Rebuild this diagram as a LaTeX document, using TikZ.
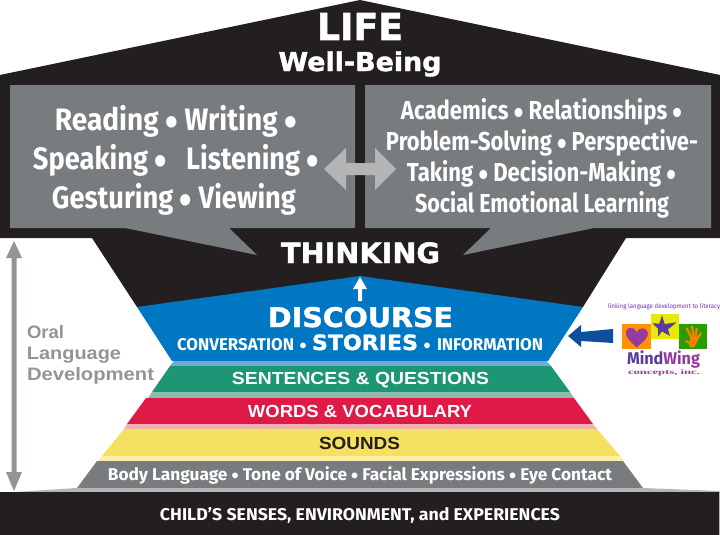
\documentclass[tikz,border=0pt]{standalone}
\usepackage{fontspec}
\usepackage{graphicx}
\setmainfont{Liberation Sans}
\newfontfamily\cond{Fira Sans}
\newfontfamily\heavy[BoldFeatures={FakeBold=1.6}]{DejaVu Sans}
\newfontfamily\serifw{Liberation Serif}
\newfontfamily\bulf{Liberation Sans}
\newcommand\tw[2]{\resizebox{#1pt}{\height}{#2}}
\newcommand\fs[1]{\fontsize{#1}{#1}\selectfont}
% big bullet: size, drop
\newcommand\bu[2]{\raisebox{-#2pt}{\fontsize{#1}{#1}\bulf\bfseries •}}
\definecolor{ink}{HTML}{231F20}
\definecolor{slate}{HTML}{787C7F}
\definecolor{midgrey}{HTML}{929497}
\definecolor{lightg}{HTML}{B3B5B7}
\definecolor{blueL}{HTML}{0077C2}
\definecolor{blueS}{HTML}{74A8DA}
\definecolor{greenL}{HTML}{1D9675}
\definecolor{greenS}{HTML}{8FB9AA}
\definecolor{redL}{HTML}{E01A47}
\definecolor{redS}{HTML}{F2B1B1}
\definecolor{yelL}{HTML}{F6E05F}
\definecolor{yelS}{HTML}{FBF0A6}
\definecolor{arrowB}{HTML}{0B4F9E}
\definecolor{purpD}{HTML}{5A3A9C}
\definecolor{purpL}{HTML}{963A9E}
\tikzset{
  lbl/.style={anchor=base,inner sep=0pt,outer sep=0pt,text=white},
  condt/.style={lbl,font=\cond\bfseries},
  headt/.style={lbl,font=\bfseries},
  blackt/.style={lbl,font=\heavy\bfseries},
}
\begin{document}
\begin{tikzpicture}[x=1pt,y=-1pt]
\useasboundingbox (0,0) rectangle (720,535);
\fill[white] (0,0) rectangle (720,535);
% house body
\fill[ink] (0,75) -- (360,0) -- (720,75) -- (720,238) -- (626,238) -- (583,307) -- (137,307) -- (92,238) -- (0,238) -- cycle;
% speech boxes
\fill[slate] (10,85) -- (355,85) -- (355,228) -- (229,228) -- (257,255) -- (125,228) -- (10,228) -- cycle;
\fill[slate] (365,85) -- (711,85) -- (711,228) -- (594,228) -- (463,255) -- (491,228) -- (365,228) -- cycle;
% double arrow
\fill[lightg] (324,169) -- (346,148) -- (346,163) -- (375,163) -- (375,148) -- (396,169) -- (375,190) -- (375,175) -- (346,175) -- (346,190) -- cycle;
% pyramid
\fill[blueL] (137,307) -- (360,276) -- (583,307) -- (548,361) -- (172,361) -- cycle;
\fill[blueS] (174,361) -- (173,362) -- (170,366) -- (551,366) -- (547,362) -- (546,361) -- cycle;
\fill[greenL] (170,366) -- (551,366) -- (570,392) -- (152,392) -- cycle;
\fill[greenS] (152,392) -- (570,392) -- (574,398) -- (148,398) -- cycle;
\fill[redL] (146,398) -- (574,398) -- (593,424) -- (127,424) -- cycle;
\fill[redS] (127,424) -- (593,424) -- (597,429) -- (124,429) -- cycle;
\fill[yelL] (124,429) -- (597,429) -- (620,456) -- (102,456) -- cycle;
\fill[yelS] (102,456) -- (620,456) -- (624,461) -- (98,461) -- cycle;
\fill[slate] (97,461) -- (623,461) -- (643,488) -- (77,488) -- cycle;
\fill[lightg] (15,492) -- (77,488) -- (643,488) -- (720,491) -- (720,492) -- cycle;
\fill[ink] (0,492) rectangle (719,535);
\fill[lightg] (719,492) rectangle (720,535);
% up arrow
\fill[white] (360,277) -- (367,289) -- (362,289) -- (362,301) -- (358,301) -- (358,289) -- (353,289) -- cycle;
% oral language arrow
\fill[midgrey] (14,241) -- (22,258) -- (16.5,258) -- (16.5,472) -- (22,472) -- (14,491) -- (6,472) -- (11.5,472) -- (11.5,258) -- (6,258) -- cycle;
% blue arrow
\fill[arrowB] (568,336) -- (581,325) -- (581,332) -- (613,329) -- (613,343) -- (581,341) -- (581,347) -- cycle;
% texts
\node[blackt] (life) at (360,40) {\tw{86}{\fs{37}LIFE}};
\node[blackt] (well) at (360,71) {\tw{163}{\fs{26}Well-Being}};
\node[condt] (l1) at (176,130) {\tw{242}{\fs{31}Reading\ \bu{40}{5}\ Writing\ \bu{40}{5}}};
\node[condt] (l2) at (176,169) {\tw{286}{\fs{31}Speaking\ \bu{40}{5}\ \ \ Listening\ \bu{40}{5}}};
\node[condt] (l3) at (174,208) {\tw{244}{\fs{31}Gesturing\ \bu{40}{5}\ Viewing}};
\node[condt] (r1) at (541.5,119) {\tw{281}{\fs{26}Academics\ \bu{32}{4}\ Relationships\ \bu{32}{4}}};
\node[condt] (r2) at (542,150) {\tw{312}{\fs{26}Problem-Solving\ \bu{32}{4}\ Perspective-}};
\node[condt] (r3) at (541.5,181) {\tw{269}{\fs{26}Taking\ \bu{32}{4}\ Decision-Making\ \bu{32}{4}}};
\node[condt] (r4) at (542,212) {\tw{254}{\fs{26}Social Emotional Learning}};
\node[blackt] (think) at (360.5,263) {\tw{159}{\fs{28}THINKING}};
\node[blackt] (disc) at (360.5,327) {\tw{185}{\fs{27}DISCOURSE}};
\node[condt] (conv) at (235.5,350) {\tw{117}{\fs{17}CONVERSATION}};
\node[lbl] (b1) at (303,350) {\bu{20}{2}};
\node[blackt] (stor) at (365,350) {\tw{106}{\fs{21}STORIES}};
\node[lbl] (b2) at (427,350) {\bu{20}{2}};
\node[condt] (info) at (490,350) {\tw{106}{\fs{17}INFORMATION}};
\node[headt] (sent) at (360.5,384) {\tw{257}{\fs{17.5}SENTENCES \& QUESTIONS}};
\node[headt] (word) at (360,417) {\tw{224}{\fs{17.5}WORDS \& VOCABULARY}};
\node[headt,text=ink] (soun) at (359.5,449) {\tw{81}{\fs{17.5}SOUNDS}};
\node[condt] (body) at (360,480) {\tw{504}{\fs{17}Body Language\ \bu{20}{2}\ Tone of Voice\ \bu{20}{2}\ Facial Expressions\ \bu{20}{2}\ Eye Contact}};
\node[condt] (child) at (360,520) {\tw{400}{\fs{17}CHILD’S SENSES, ENVIRONMENT, and EXPERIENCES}};
\node[headt,text=midgrey,anchor=base west] (o1) at (27,338) {\tw{37}{\fs{18}Oral}};
\node[headt,text=midgrey,anchor=base west] (o2) at (27,359) {\tw{94}{\fs{18}Language}};
\node[headt,text=midgrey,anchor=base west] (o3) at (27,380) {\tw{127}{\fs{18}Development}};
% logo
\begin{scope}[shift={(590,290)},scale=1/3]
\fill[orange!85!yellow] (97,103) rectangle (182,178);
\fill[yellow!90!green] (182,72) rectangle (266,146);
\fill[green!55!black!85!yellow] (266,103) rectangle (350,178);
\fill[purpL] (140,172) .. controls (118,152) and (105,140) .. (108,124) .. controls (112,108) and (134,110) .. (140,126) .. controls (148,110) and (170,112) .. (174,128) .. controls (176,142) and (160,155) .. (140,172) -- cycle;
\fill[purpD] (216,76) -- (224,102) -- (260,97) -- (234,118) -- (240,138) -- (216,124) -- (204,140) -- (204,116) -- (187,100) -- (208,101) -- cycle;
\draw[orange,line width=2.2pt,line cap=round] (290,115) -- (306,145);
\draw[orange,line width=2.2pt,line cap=round] (306,110) -- (312,145);
\draw[orange,line width=2.2pt,line cap=round] (320,116) -- (316,148);
\draw[orange,line width=2.2pt,line cap=round] (332,130) -- (320,150);
\draw[orange,line width=2.2pt,line cap=round] (288,153) -- (302,160);
\fill[orange] (298,170) -- (300,142) -- (325,148) -- (312,172) -- cycle;
\end{scope}
\node[lbl,text=purpL!80!blue,font=\cond] (tag) at (664,308) {\tw{112}{\fs{6.5}linking language development to literacy}};
\node[lbl,font=\cond\bfseries] (mw) at (663.5,364) {\tw{73}{\fs{17}\textcolor{purpD}{Mind}\textcolor{purpL}{Wing}}};
\node[lbl,text=purpL,font=\serifw\bfseries] (ci) at (664,374) {\tw{72}{\fs{7}concepts, inc.}};
\end{tikzpicture}
\end{document}
